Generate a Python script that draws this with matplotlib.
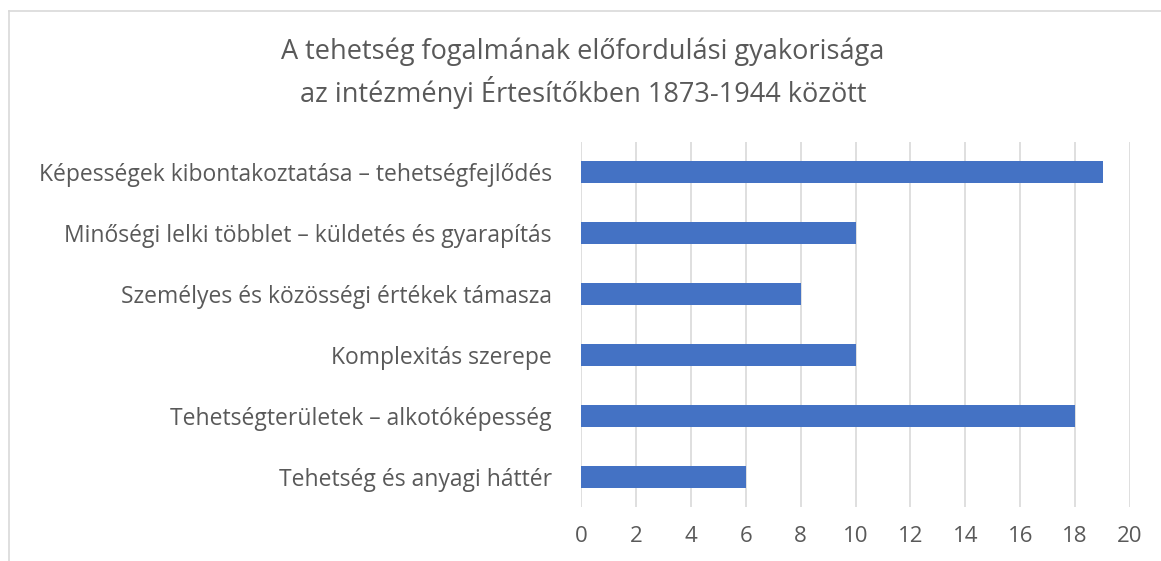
import matplotlib
matplotlib.use("Agg")
import matplotlib.pyplot as plt
from matplotlib.lines import Line2D

categories = [
    "Képességek kibontakoztatása – tehetségfejlődés",
    "Minőségi lelki többlet – küldetés és gyarapítás",
    "Személyes és közösségi értékek támasza",
    "Komplexitás szerepe",
    "Tehetségterületek – alkotóképesség",
    "Tehetség és anyagi háttér",
]
values = [19, 10, 8, 10, 18, 6]
xticks = [0, 2, 4, 6, 8, 10, 12, 14, 16, 18, 20]
title = "A tehetség fogalmának előfordulási gyakorisága\naz intézményi Értesítőkben 1873-1944 között"

plt.rcParams['font.family'] = ['Open Sans', 'DejaVu Sans']
txt = "#595959"
W, H = 1161, 561

fig = plt.figure(figsize=(W / 100, H / 100), dpi=100)
ax = fig.add_axes([581 / W, 1 - 507 / H, (1130 - 581) / W, (507 - 142) / H])

ypos = list(range(len(categories)))
ax.barh(ypos, values, height=0.36, color="#4472C4", zorder=3)
ax.set_ylim(len(categories) - 0.5, -0.5)
ax.set_yticks(ypos)
ax.set_yticklabels(categories, fontsize=16.5, color=txt)
ax.set_xlim(0, 20)
ax.set_xticks(xticks)
ax.set_xticklabels([str(t) for t in xticks], fontsize=16, color=txt)
ax.tick_params(axis='both', length=0)
ax.tick_params(axis='y', pad=21)
ax.tick_params(axis='x', pad=14)
ax.grid(axis='x', color="#D9D9D9", linewidth=1.2, zorder=0)
for s in ax.spines.values():
    s.set_visible(False)

fig.text(583 / W, 1 - 73 / H, title, ha='center', va='center', fontsize=19.5,
         color=txt, linespacing=1.4)

# chart border (left and top visible)
bx, by = 8.5 / W, 1 - 10.5 / H
fig.add_artist(Line2D([bx, bx], [0, by], transform=fig.transFigure, color="#D9D9D9", lw=1.2))
fig.add_artist(Line2D([bx, 1], [by, by], transform=fig.transFigure, color="#D9D9D9", lw=1.2))

fig.savefig("out.png", dpi=100, facecolor="white")
